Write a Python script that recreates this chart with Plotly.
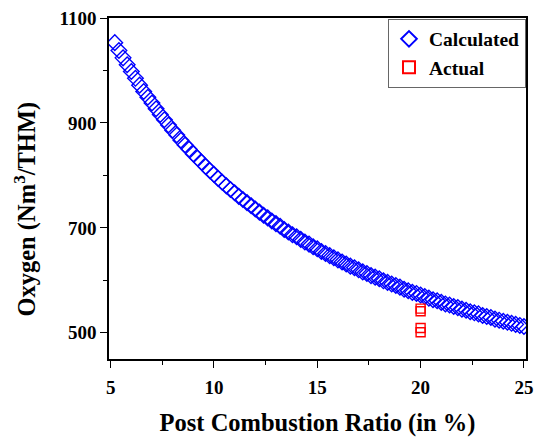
import plotly.graph_objects as go

ratio_calc = [5.2, 5.4, 5.6, 5.8, 6.0, 6.2, 6.4, 6.6, 6.8, 7.0,
              7.2, 7.4, 7.6, 7.8, 8.0, 8.2, 8.4, 8.6, 8.8, 9.0,
              9.2, 9.4, 9.6, 9.8, 10.0, 10.2, 10.4, 10.6, 10.8, 11.0,
              11.2, 11.4, 11.6, 11.8, 12.0, 12.2, 12.4, 12.6, 12.8, 13.0,
              13.2, 13.4, 13.6, 13.8, 14.0, 14.2, 14.4, 14.6, 14.8, 15.0,
              15.2, 15.4, 15.6, 15.8, 16.0, 16.2, 16.4, 16.6, 16.8, 17.0,
              17.2, 17.4, 17.6, 17.8, 18.0, 18.2, 18.4, 18.6, 18.8, 19.0,
              19.2, 19.4, 19.6, 19.8, 20.0, 20.2, 20.4, 20.6, 20.8, 21.0,
              21.2, 21.4, 21.6, 21.8, 22.0, 22.2, 22.4, 22.6, 22.8, 23.0,
              23.2, 23.4, 23.6, 23.8, 24.0, 24.2, 24.4, 24.6, 24.8, 25.0]
oxygen_calc = [1053, 1038, 1024, 1011, 998, 985, 972, 960, 949, 938,
               927, 916, 906, 896, 886, 877, 867, 858, 850, 841,
               833, 825, 817, 809, 802, 794, 787, 780, 773, 767,
               760, 754, 748, 742, 736, 730, 724, 719, 713, 708,
               703, 697, 692, 687, 683, 678, 673, 669, 664, 660,
               655, 651, 647, 643, 639, 635, 631, 627, 624, 620,
               616, 613, 609, 606, 603, 599, 596, 593, 590, 587,
               583, 580, 577, 575, 572, 569, 566, 563, 561, 558,
               555, 553, 550, 548, 545, 543, 540, 538, 536, 533,
               531, 529, 526, 524, 522, 520, 518, 516, 514, 512]

ratio_actual = [20, 20, 20, 20]
oxygen_actual = [546, 541, 509, 501]

x_ticks = [5, 10, 15, 20, 25]
y_ticks = [500, 700, 900, 1100]

FONT = "Liberation Serif"

fig = go.Figure()
fig.add_trace(go.Scatter(
    x=ratio_calc, y=oxygen_calc, mode="markers", name="Calculated",
    marker=dict(symbol="diamond-open", size=12, color="#0000FF",
                line=dict(width=1.4, color="#0000FF")),
))
fig.add_trace(go.Scatter(
    x=ratio_actual, y=oxygen_actual, mode="markers", name="Actual",
    marker=dict(symbol="square-open", size=9, color="#FF0000",
                line=dict(width=1.4, color="#FF0000")),
))

axis_common = dict(
    showline=True, linecolor="black", linewidth=1.6, mirror=True,
    showgrid=False, zeroline=False, ticks="outside", ticklen=7,
    tickwidth=1.3, tickcolor="black",
    tickfont=dict(family=FONT, size=19, color="black", weight="bold"),
)

fig.update_layout(
    width=539, height=438,
    margin=dict(l=109, r=6, t=18, b=72),
    paper_bgcolor="white", plot_bgcolor="white",
    xaxis=dict(range=[4.92, 25.1], tickvals=x_ticks, ticklabelstandoff=3,
               minor=dict(tickvals=[7.5, 12.5, 17.5, 22.5], ticks="outside",
                          ticklen=4, tickwidth=1.3, tickcolor="black"),
               title=dict(text="<b>Post Combustion Ratio (in %)</b>",
                          font=dict(family=FONT, size=24.5, color="black"),
                          standoff=17),
               **axis_common),
    yaxis=dict(range=[450, 1100], tickvals=y_ticks,
               minor=dict(tickvals=[600, 800, 1000], ticks="outside",
                          ticklen=4, tickwidth=1.3, tickcolor="black"),
               **axis_common),
    legend=dict(x=1.0, y=0.998, xanchor="right", yanchor="top",
                bgcolor="white", bordercolor="#666666", borderwidth=1,
                font=dict(family=FONT, size=19.5, color="black", weight="bold"),
                itemsizing="constant"),
    showlegend=True,
    annotations=[dict(
        text="<b>Oxygen (Nm<sup>3</sup>/THM)</b>", textangle=-90,
        xref="paper", yref="paper", x=-0.2, y=0.44,
        xanchor="center", yanchor="middle", showarrow=False,
        font=dict(family=FONT, size=24.5, color="black"),
    )],
)

fig.write_html("out.html")
